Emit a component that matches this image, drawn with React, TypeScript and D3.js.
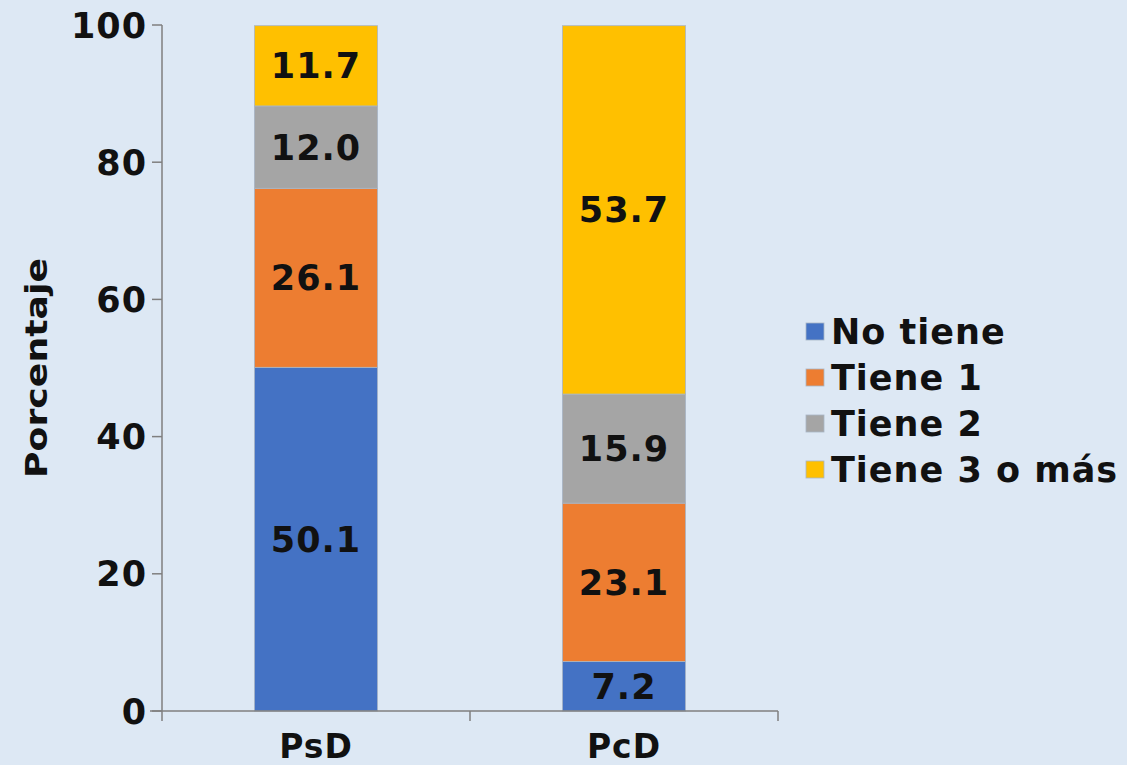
import React from "react";
import * as d3 from "d3";

const categories = ["PsD", "PcD"];
const seriesNames = ["No tiene", "Tiene 1", "Tiene 2", "Tiene 3 o más"];
const noTiene = [50.1, 7.2];
const tiene1 = [26.1, 23.1];
const tiene2 = [12.0, 15.9];
const tiene3 = [11.7, 53.7];
const yTicks = [0, 20, 40, 60, 80, 100];
const colors = ["#4472C4", "#ED7D31", "#A5A5A5", "#FFC000"];

const W = 1127, H = 765;
const FONT = "'DejaVu Sans', Verdana, sans-serif";
const FS = 35;
const LS = 1;

export default function App() {
  const series = [noTiene, tiene1, tiene2, tiene3];
  const rows = categories.map((c, i) => {
    const r: any = { cat: c };
    seriesNames.forEach((s, j) => (r[s] = series[j][i]));
    return r;
  });
  const stacked = d3.stack().keys(seriesNames)(rows);
  const y = d3.scaleLinear().domain([0, 100]).range([711, 25]);
  const x = d3.scaleBand().domain(categories).range([162, 778]).paddingInner(0.6).paddingOuter(0.3);
  const axisX0 = 162, axisX1 = 778;
  const bands = [axisX0, (axisX0 + axisX1) / 2, axisX1];
  return (
    <svg width={W} height={H} style={{ position: "absolute", left: 0, top: 0, background: "#DDE8F4" }}>
      <rect x={0} y={0} width={W} height={H} fill="#DDE8F4" />
      {stacked.map((s, j) =>
        s.map((d, i) => {
          const x0 = x(categories[i])!;
          const y0 = y(d[1]);
          const h = y(d[0]) - y(d[1]);
          return (
            <g key={`${j}-${i}`}>
              <rect x={x0} y={y0} width={x.bandwidth()} height={h} fill={colors[j]} stroke="#A9B6C6" strokeWidth={0.8} />
              <text x={x0 + x.bandwidth() / 2} y={y0 + h / 2} dy="0.36em" textAnchor="middle"
                fontFamily={FONT} fontWeight="bold" fontSize={FS} letterSpacing={LS} fill="#111">
                {series[j][i].toFixed(1)}
              </text>
            </g>
          );
        })
      )}
      {/* y axis */}
      <line x1={axisX0} x2={axisX0} y1={y(100)} y2={y(0)} stroke="#7F7F7F" strokeWidth={1.5} />
      {yTicks.map((t) => (
        <g key={t}>
          <line x1={152} x2={axisX0} y1={y(t)} y2={y(t)} stroke="#7F7F7F" strokeWidth={1.5} />
          <text x={147} y={y(t)} dy="0.36em" textAnchor="end" fontFamily={FONT} fontWeight="bold"
            fontSize={FS} letterSpacing={LS} fill="#111">
            {t}
          </text>
        </g>
      ))}
      {/* x axis */}
      <line x1={150} x2={axisX1} y1={y(0)} y2={y(0)} stroke="#7F7F7F" strokeWidth={1.5} />
      {bands.map((b, i) => (
        <line key={i} x1={b} x2={b} y1={y(0)} y2={y(0) + 10} stroke="#7F7F7F" strokeWidth={1.5} />
      ))}
      {categories.map((c) => (
        <text key={c} x={x(c)! + x.bandwidth() / 2} y={746} dy="0.36em" textAnchor="middle"
          fontFamily={FONT} fontWeight="bold" fontSize={33} letterSpacing={LS} fill="#111">
          {c}
        </text>
      ))}
      <text transform={`translate(36,${368}) rotate(-90)`} textAnchor="middle" dy="0.36em"
        fontFamily={FONT} fontWeight="bold" fontSize={30} textLength={220} lengthAdjust="spacingAndGlyphs" fill="#111">
        Porcentaje
      </text>
      {/* legend */}
      {seriesNames.map((s, j) => (
        <g key={s} transform={`translate(806,${331 + j * 46})`}>
          <rect x={0} y={-8} width={18} height={17} fill={colors[j]} stroke="#A9B6C6" strokeWidth={0.8} />
          <text x={25} y={0} dy="0.36em" fontFamily={FONT} fontWeight="bold" fontSize={FS} letterSpacing={LS} fill="#111">
            {s}
          </text>
        </g>
      ))}
    </svg>
  );
}
